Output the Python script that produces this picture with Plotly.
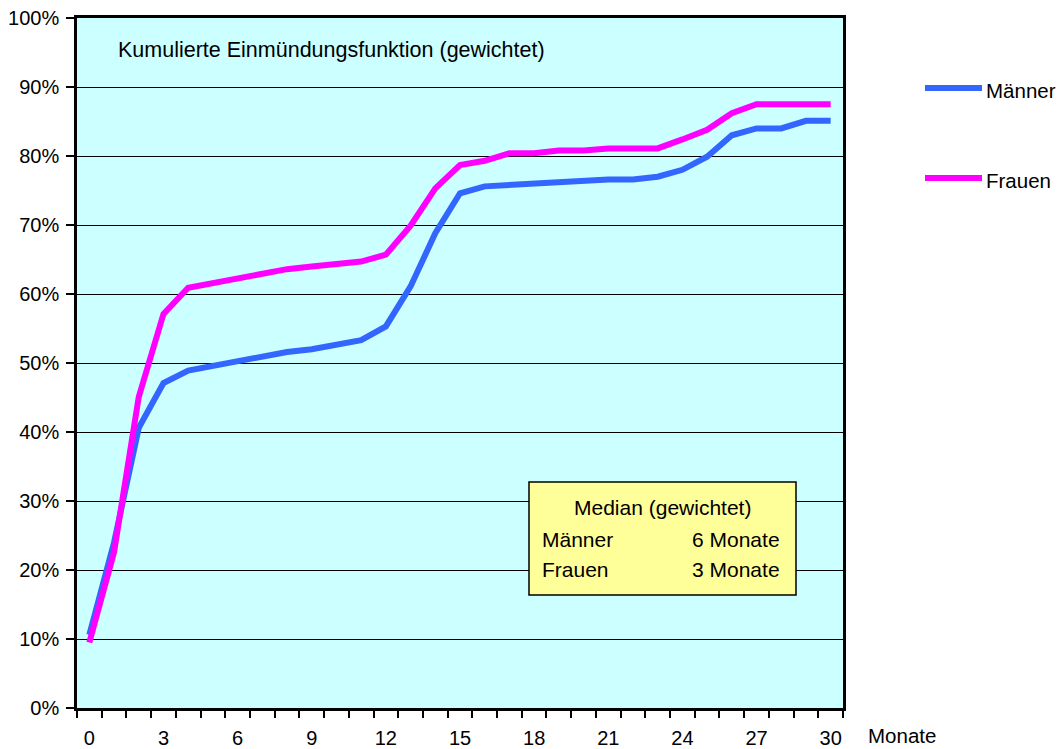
import plotly.graph_objects as go

# Months since entry and cumulative share (weighted)
monate = list(range(31))
maenner = [0.106, 0.240, 0.406, 0.471, 0.489, 0.496, 0.502, 0.508, 0.516, 0.520,
           0.526, 0.533, 0.553, 0.611, 0.688, 0.746, 0.756, 0.758, 0.762, 0.762,
           0.766, 0.766, 0.766, 0.770, 0.780, 0.799, 0.830, 0.840, 0.840, 0.851,
           0.851]
frauen = [0.095, 0.226, 0.451, 0.571, 0.609, 0.616, 0.623, 0.629, 0.636, 0.640,
          0.643, 0.647, 0.657, 0.699, 0.753, 0.787, 0.793, 0.804, 0.804, 0.808,
          0.808, 0.811, 0.811, 0.811, 0.824, 0.838, 0.862, 0.875, 0.875, 0.875,
          0.875]
x_ticks = [0, 3, 6, 9, 12, 15, 18, 21, 24, 27, 30]
y_ticks = [i / 10 for i in range(11)]

median_rows = [("Männer", "6 Monate"), ("Frauen", "3 Monate")]

W, H = 1060, 749
M_L, M_R, M_T, M_B = 77, 217, 18, 41
PW, PH = W - M_L - M_R, H - M_T - M_B

FONT = "Liberation Sans, Arial, sans-serif"
BLUE = "#3366FF"
MAGENTA = "#FF00FF"


def px(x):
    return (x - M_L) / PW


def py(y):
    return (H - M_B - y) / PH


fig = go.Figure()
fig.add_trace(go.Scatter(x=monate, y=maenner, mode="lines", name="Männer",
                         line=dict(color=BLUE, width=6), showlegend=False))
fig.add_trace(go.Scatter(x=monate, y=frauen, mode="lines", name="Frauen",
                         line=dict(color=MAGENTA, width=6), showlegend=False))

shapes = []
annotations = []

# Median box
shapes.append(dict(type="rect", xref="paper", yref="paper",
                   x0=px(529), x1=px(796), y0=py(595), y1=py(482),
                   fillcolor="#FFFF99", line=dict(color="black", width=1.5)))
annotations.append(dict(xref="paper", yref="paper", x=px(662), y=py(507),
                        text="Median (gewichtet)", showarrow=False,
                        xanchor="center", yanchor="middle",
                        font=dict(family=FONT, size=21, color="black")))
for i, (lab, val) in enumerate(median_rows):
    yy = py(539 + 30 * i)
    annotations.append(dict(xref="paper", yref="paper", x=px(540), y=yy,
                            text=lab, showarrow=False, xanchor="left",
                            yanchor="middle",
                            font=dict(family=FONT, size=21, color="black")))
    annotations.append(dict(xref="paper", yref="paper", x=px(782), y=yy,
                            text=val, showarrow=False, xanchor="right",
                            yanchor="middle",
                            font=dict(family=FONT, size=21, color="black")))

# Chart heading inside the plot
annotations.append(dict(xref="paper", yref="paper", x=px(116), y=py(50),
                        text="Kumulierte Einmündungsfunktion (gewichtet)",
                        showarrow=False, xanchor="left", yanchor="middle",
                        font=dict(family=FONT, size=21.5, color="black")))

# Axis name for x
annotations.append(dict(xref="paper", yref="paper", x=px(866), y=py(736),
                        text="Monate", showarrow=False, xanchor="left",
                        yanchor="middle",
                        font=dict(family=FONT, size=20.5, color="black")))

# Legend drawn at the right
for name, color, ly in (("Männer", BLUE, 88), ("Frauen", MAGENTA, 178)):
    shapes.append(dict(type="line", xref="paper", yref="paper",
                       x0=px(925), x1=px(982), y0=py(ly), y1=py(ly),
                       line=dict(color=color, width=6)))
    annotations.append(dict(xref="paper", yref="paper", x=px(984), y=py(ly + 2.5),
                            text=name, showarrow=False, xanchor="left",
                            yanchor="middle",
                            font=dict(family=FONT, size=20.5, color="black")))

fig.update_layout(
    width=W, height=H,
    margin=dict(l=M_L, r=M_R, t=M_T, b=M_B, pad=0, autoexpand=False),
    paper_bgcolor="white",
    plot_bgcolor="#CCFFFF",
    font=dict(family=FONT, size=20, color="black"),
    shapes=shapes,
    annotations=annotations,
    showlegend=False,
)

fig.update_xaxes(
    range=[-0.5, 30.5], automargin=False,
    tickmode="array", tickvals=x_ticks, ticktext=[str(v) for v in x_ticks],
    ticks="", showgrid=False, zeroline=False,
    showline=True, linecolor="black", linewidth=2.5, mirror=True,
    minor=dict(tick0=-0.5, dtick=1, ticks="outside", ticklen=7,
               tickwidth=2, tickcolor="black", showgrid=False),
    tickfont=dict(family=FONT, size=20, color="black"),
    ticklabelstandoff=10,
)
fig.update_yaxes(
    range=[0, 1], automargin=False,
    tickmode="array", tickvals=y_ticks,
    ticktext=[f"{int(round(v * 100))}%" for v in y_ticks],
    ticks="outside", ticklen=8, tickwidth=2, tickcolor="black",
    showgrid=True, gridcolor="black", gridwidth=1, zeroline=False,
    showline=True, linecolor="black", linewidth=2.5, mirror=True,
    tickfont=dict(family=FONT, size=20, color="black"),
    ticklabelstandoff=3,
)

fig.write_html("out.html")
